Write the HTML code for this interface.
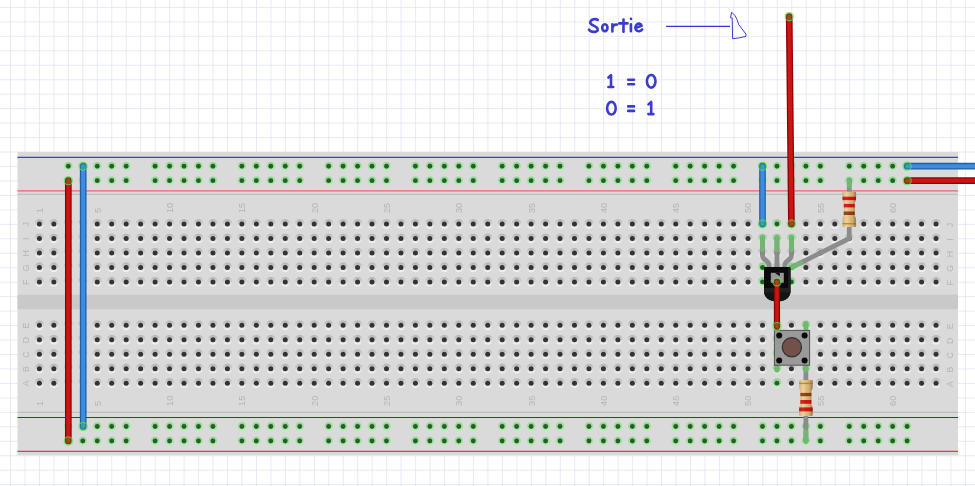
<!DOCTYPE html><html><head><meta charset="utf-8"><title>breadboard</title>
<style>html,body{margin:0;padding:0;background:#fff;overflow:hidden}body{width:975px;height:486px;font-family:"Liberation Sans",sans-serif}svg{display:block}</style></head><body>
<svg width="975" height="486" viewBox="0 0 975 486">
<defs>
<linearGradient id="ring" x1="0" y1="0" x2="0" y2="1"><stop offset="0" stop-color="#b1b1b1"/><stop offset="0.42" stop-color="#d0d0d0"/><stop offset="1" stop-color="#f6f6f6"/></linearGradient>
<g id="h"><circle r="4.85" fill="url(#ring)"/><circle r="2.5" fill="#333"/></g>
<linearGradient id="gg" x1="0" y1="0" x2="0" y2="1"><stop offset="0" stop-color="#84da84"/><stop offset="1" stop-color="#b2f0b0"/></linearGradient><g id="p"><circle r="4.25" fill="url(#gg)"/><circle r="2.45" fill="#2b5a2e"/></g>
<g id="g"><circle r="4.25" fill="url(#gg)"/><circle r="2.45" fill="#2b5a2e"/></g>
</defs>
<rect width="975" height="486" fill="#fff"/>
<path d="M10.50 0V486M24.97 0V486M39.44 0V486M53.90 0V486M68.37 0V486M82.84 0V486M97.31 0V486M111.78 0V486M126.24 0V486M140.71 0V486M155.18 0V486M169.65 0V486M184.12 0V486M198.58 0V486M213.05 0V486M227.52 0V486M241.99 0V486M256.46 0V486M270.92 0V486M285.39 0V486M299.86 0V486M314.33 0V486M328.80 0V486M343.26 0V486M357.73 0V486M372.20 0V486M386.67 0V486M401.14 0V486M415.60 0V486M430.07 0V486M444.54 0V486M459.01 0V486M473.48 0V486M487.94 0V486M502.41 0V486M516.88 0V486M531.35 0V486M545.82 0V486M560.28 0V486M574.75 0V486M589.22 0V486M603.69 0V486M618.16 0V486M632.62 0V486M647.09 0V486M661.56 0V486M676.03 0V486M690.50 0V486M704.96 0V486M719.43 0V486M733.90 0V486M748.37 0V486M762.84 0V486M777.30 0V486M791.77 0V486M806.24 0V486M820.71 0V486M835.18 0V486M849.64 0V486M864.11 0V486M878.58 0V486M893.05 0V486M907.52 0V486M921.98 0V486M936.45 0V486M950.92 0V486M965.39 0V486M979.86 0V486M0 7.40H975M0 21.86H975M0 36.33H975M0 50.79H975M0 65.25H975M0 79.72H975M0 94.18H975M0 108.64H975M0 123.10H975M0 137.57H975M0 152.03H975M0 166.49H975M0 180.96H975M0 195.42H975M0 209.88H975M0 224.34H975M0 238.81H975M0 253.27H975M0 267.73H975M0 282.20H975M0 296.66H975M0 311.12H975M0 325.59H975M0 340.05H975M0 354.51H975M0 368.97H975M0 383.44H975M0 397.90H975M0 412.36H975M0 426.83H975M0 441.29H975M0 455.75H975M0 470.22H975M0 484.68H975" stroke="#dfe6ef" stroke-width="0.8" fill="none"/>
<rect x="17.5" y="152.0" width="940.5" height="303.3" fill="#dadada"/>
<rect x="17.5" y="294.8" width="940.5" height="14.4" fill="#cbc9c7"/>
<path d="M17.5 194.3H958.0M17.5 412.3H958.0" stroke="#b4b4b4" stroke-width="0.9"/>
<path d="M17.5 157.3H958.0" stroke="#3c3af0" stroke-width="1.2"/>
<path d="M17.5 417.5H958.0" stroke="#2a28ee" stroke-width="1.1"/>
<path d="M17.5 190.9H958.0" stroke="#ee6464" stroke-width="1.4"/>
<path d="M17.5 451.4H958.0" stroke="#f03a3a" stroke-width="1.2"/>
<use href="#h" x="39.40" y="224.05"/>
<use href="#h" x="53.86" y="224.05"/>
<use href="#h" x="68.32" y="224.05"/>
<use href="#h" x="82.79" y="224.05"/>
<use href="#h" x="97.25" y="224.05"/>
<use href="#h" x="111.71" y="224.05"/>
<use href="#h" x="126.17" y="224.05"/>
<use href="#h" x="140.63" y="224.05"/>
<use href="#h" x="155.10" y="224.05"/>
<use href="#h" x="169.56" y="224.05"/>
<use href="#h" x="184.02" y="224.05"/>
<use href="#h" x="198.48" y="224.05"/>
<use href="#h" x="212.94" y="224.05"/>
<use href="#h" x="227.41" y="224.05"/>
<use href="#h" x="241.87" y="224.05"/>
<use href="#h" x="256.33" y="224.05"/>
<use href="#h" x="270.79" y="224.05"/>
<use href="#h" x="285.25" y="224.05"/>
<use href="#h" x="299.72" y="224.05"/>
<use href="#h" x="314.18" y="224.05"/>
<use href="#h" x="328.64" y="224.05"/>
<use href="#h" x="343.10" y="224.05"/>
<use href="#h" x="357.56" y="224.05"/>
<use href="#h" x="372.03" y="224.05"/>
<use href="#h" x="386.49" y="224.05"/>
<use href="#h" x="400.95" y="224.05"/>
<use href="#h" x="415.41" y="224.05"/>
<use href="#h" x="429.87" y="224.05"/>
<use href="#h" x="444.34" y="224.05"/>
<use href="#h" x="458.80" y="224.05"/>
<use href="#h" x="473.26" y="224.05"/>
<use href="#h" x="487.72" y="224.05"/>
<use href="#h" x="502.18" y="224.05"/>
<use href="#h" x="516.65" y="224.05"/>
<use href="#h" x="531.11" y="224.05"/>
<use href="#h" x="545.57" y="224.05"/>
<use href="#h" x="560.03" y="224.05"/>
<use href="#h" x="574.49" y="224.05"/>
<use href="#h" x="588.96" y="224.05"/>
<use href="#h" x="603.42" y="224.05"/>
<use href="#h" x="617.88" y="224.05"/>
<use href="#h" x="632.34" y="224.05"/>
<use href="#h" x="646.80" y="224.05"/>
<use href="#h" x="661.27" y="224.05"/>
<use href="#h" x="675.73" y="224.05"/>
<use href="#h" x="690.19" y="224.05"/>
<use href="#h" x="704.65" y="224.05"/>
<use href="#h" x="719.11" y="224.05"/>
<use href="#h" x="733.58" y="224.05"/>
<use href="#h" x="748.04" y="224.05"/>
<use href="#h" x="762.50" y="224.05"/>
<use href="#h" x="776.96" y="224.05"/>
<use href="#h" x="791.42" y="224.05"/>
<use href="#h" x="805.89" y="224.05"/>
<use href="#h" x="820.35" y="224.05"/>
<use href="#h" x="834.81" y="224.05"/>
<use href="#h" x="849.27" y="224.05"/>
<use href="#h" x="863.73" y="224.05"/>
<use href="#h" x="878.20" y="224.05"/>
<use href="#h" x="892.66" y="224.05"/>
<use href="#h" x="907.12" y="224.05"/>
<use href="#h" x="921.58" y="224.05"/>
<use href="#h" x="936.04" y="224.05"/>
<use href="#h" x="39.40" y="238.51"/>
<use href="#h" x="53.86" y="238.51"/>
<use href="#h" x="68.32" y="238.51"/>
<use href="#h" x="82.79" y="238.51"/>
<use href="#h" x="97.25" y="238.51"/>
<use href="#h" x="111.71" y="238.51"/>
<use href="#h" x="126.17" y="238.51"/>
<use href="#h" x="140.63" y="238.51"/>
<use href="#h" x="155.10" y="238.51"/>
<use href="#h" x="169.56" y="238.51"/>
<use href="#h" x="184.02" y="238.51"/>
<use href="#h" x="198.48" y="238.51"/>
<use href="#h" x="212.94" y="238.51"/>
<use href="#h" x="227.41" y="238.51"/>
<use href="#h" x="241.87" y="238.51"/>
<use href="#h" x="256.33" y="238.51"/>
<use href="#h" x="270.79" y="238.51"/>
<use href="#h" x="285.25" y="238.51"/>
<use href="#h" x="299.72" y="238.51"/>
<use href="#h" x="314.18" y="238.51"/>
<use href="#h" x="328.64" y="238.51"/>
<use href="#h" x="343.10" y="238.51"/>
<use href="#h" x="357.56" y="238.51"/>
<use href="#h" x="372.03" y="238.51"/>
<use href="#h" x="386.49" y="238.51"/>
<use href="#h" x="400.95" y="238.51"/>
<use href="#h" x="415.41" y="238.51"/>
<use href="#h" x="429.87" y="238.51"/>
<use href="#h" x="444.34" y="238.51"/>
<use href="#h" x="458.80" y="238.51"/>
<use href="#h" x="473.26" y="238.51"/>
<use href="#h" x="487.72" y="238.51"/>
<use href="#h" x="502.18" y="238.51"/>
<use href="#h" x="516.65" y="238.51"/>
<use href="#h" x="531.11" y="238.51"/>
<use href="#h" x="545.57" y="238.51"/>
<use href="#h" x="560.03" y="238.51"/>
<use href="#h" x="574.49" y="238.51"/>
<use href="#h" x="588.96" y="238.51"/>
<use href="#h" x="603.42" y="238.51"/>
<use href="#h" x="617.88" y="238.51"/>
<use href="#h" x="632.34" y="238.51"/>
<use href="#h" x="646.80" y="238.51"/>
<use href="#h" x="661.27" y="238.51"/>
<use href="#h" x="675.73" y="238.51"/>
<use href="#h" x="690.19" y="238.51"/>
<use href="#h" x="704.65" y="238.51"/>
<use href="#h" x="719.11" y="238.51"/>
<use href="#h" x="733.58" y="238.51"/>
<use href="#h" x="748.04" y="238.51"/>
<use href="#h" x="762.50" y="238.51"/>
<use href="#h" x="776.96" y="238.51"/>
<use href="#h" x="791.42" y="238.51"/>
<use href="#h" x="805.89" y="238.51"/>
<use href="#h" x="820.35" y="238.51"/>
<use href="#h" x="834.81" y="238.51"/>
<use href="#h" x="849.27" y="238.51"/>
<use href="#h" x="863.73" y="238.51"/>
<use href="#h" x="878.20" y="238.51"/>
<use href="#h" x="892.66" y="238.51"/>
<use href="#h" x="907.12" y="238.51"/>
<use href="#h" x="921.58" y="238.51"/>
<use href="#h" x="936.04" y="238.51"/>
<use href="#h" x="39.40" y="252.97"/>
<use href="#h" x="53.86" y="252.97"/>
<use href="#h" x="68.32" y="252.97"/>
<use href="#h" x="82.79" y="252.97"/>
<use href="#h" x="97.25" y="252.97"/>
<use href="#h" x="111.71" y="252.97"/>
<use href="#h" x="126.17" y="252.97"/>
<use href="#h" x="140.63" y="252.97"/>
<use href="#h" x="155.10" y="252.97"/>
<use href="#h" x="169.56" y="252.97"/>
<use href="#h" x="184.02" y="252.97"/>
<use href="#h" x="198.48" y="252.97"/>
<use href="#h" x="212.94" y="252.97"/>
<use href="#h" x="227.41" y="252.97"/>
<use href="#h" x="241.87" y="252.97"/>
<use href="#h" x="256.33" y="252.97"/>
<use href="#h" x="270.79" y="252.97"/>
<use href="#h" x="285.25" y="252.97"/>
<use href="#h" x="299.72" y="252.97"/>
<use href="#h" x="314.18" y="252.97"/>
<use href="#h" x="328.64" y="252.97"/>
<use href="#h" x="343.10" y="252.97"/>
<use href="#h" x="357.56" y="252.97"/>
<use href="#h" x="372.03" y="252.97"/>
<use href="#h" x="386.49" y="252.97"/>
<use href="#h" x="400.95" y="252.97"/>
<use href="#h" x="415.41" y="252.97"/>
<use href="#h" x="429.87" y="252.97"/>
<use href="#h" x="444.34" y="252.97"/>
<use href="#h" x="458.80" y="252.97"/>
<use href="#h" x="473.26" y="252.97"/>
<use href="#h" x="487.72" y="252.97"/>
<use href="#h" x="502.18" y="252.97"/>
<use href="#h" x="516.65" y="252.97"/>
<use href="#h" x="531.11" y="252.97"/>
<use href="#h" x="545.57" y="252.97"/>
<use href="#h" x="560.03" y="252.97"/>
<use href="#h" x="574.49" y="252.97"/>
<use href="#h" x="588.96" y="252.97"/>
<use href="#h" x="603.42" y="252.97"/>
<use href="#h" x="617.88" y="252.97"/>
<use href="#h" x="632.34" y="252.97"/>
<use href="#h" x="646.80" y="252.97"/>
<use href="#h" x="661.27" y="252.97"/>
<use href="#h" x="675.73" y="252.97"/>
<use href="#h" x="690.19" y="252.97"/>
<use href="#h" x="704.65" y="252.97"/>
<use href="#h" x="719.11" y="252.97"/>
<use href="#h" x="733.58" y="252.97"/>
<use href="#h" x="748.04" y="252.97"/>
<use href="#h" x="762.50" y="252.97"/>
<use href="#h" x="776.96" y="252.97"/>
<use href="#h" x="791.42" y="252.97"/>
<use href="#h" x="805.89" y="252.97"/>
<use href="#h" x="820.35" y="252.97"/>
<use href="#h" x="834.81" y="252.97"/>
<use href="#h" x="849.27" y="252.97"/>
<use href="#h" x="863.73" y="252.97"/>
<use href="#h" x="878.20" y="252.97"/>
<use href="#h" x="892.66" y="252.97"/>
<use href="#h" x="907.12" y="252.97"/>
<use href="#h" x="921.58" y="252.97"/>
<use href="#h" x="936.04" y="252.97"/>
<use href="#h" x="39.40" y="267.43"/>
<use href="#h" x="53.86" y="267.43"/>
<use href="#h" x="68.32" y="267.43"/>
<use href="#h" x="82.79" y="267.43"/>
<use href="#h" x="97.25" y="267.43"/>
<use href="#h" x="111.71" y="267.43"/>
<use href="#h" x="126.17" y="267.43"/>
<use href="#h" x="140.63" y="267.43"/>
<use href="#h" x="155.10" y="267.43"/>
<use href="#h" x="169.56" y="267.43"/>
<use href="#h" x="184.02" y="267.43"/>
<use href="#h" x="198.48" y="267.43"/>
<use href="#h" x="212.94" y="267.43"/>
<use href="#h" x="227.41" y="267.43"/>
<use href="#h" x="241.87" y="267.43"/>
<use href="#h" x="256.33" y="267.43"/>
<use href="#h" x="270.79" y="267.43"/>
<use href="#h" x="285.25" y="267.43"/>
<use href="#h" x="299.72" y="267.43"/>
<use href="#h" x="314.18" y="267.43"/>
<use href="#h" x="328.64" y="267.43"/>
<use href="#h" x="343.10" y="267.43"/>
<use href="#h" x="357.56" y="267.43"/>
<use href="#h" x="372.03" y="267.43"/>
<use href="#h" x="386.49" y="267.43"/>
<use href="#h" x="400.95" y="267.43"/>
<use href="#h" x="415.41" y="267.43"/>
<use href="#h" x="429.87" y="267.43"/>
<use href="#h" x="444.34" y="267.43"/>
<use href="#h" x="458.80" y="267.43"/>
<use href="#h" x="473.26" y="267.43"/>
<use href="#h" x="487.72" y="267.43"/>
<use href="#h" x="502.18" y="267.43"/>
<use href="#h" x="516.65" y="267.43"/>
<use href="#h" x="531.11" y="267.43"/>
<use href="#h" x="545.57" y="267.43"/>
<use href="#h" x="560.03" y="267.43"/>
<use href="#h" x="574.49" y="267.43"/>
<use href="#h" x="588.96" y="267.43"/>
<use href="#h" x="603.42" y="267.43"/>
<use href="#h" x="617.88" y="267.43"/>
<use href="#h" x="632.34" y="267.43"/>
<use href="#h" x="646.80" y="267.43"/>
<use href="#h" x="661.27" y="267.43"/>
<use href="#h" x="675.73" y="267.43"/>
<use href="#h" x="690.19" y="267.43"/>
<use href="#h" x="704.65" y="267.43"/>
<use href="#h" x="719.11" y="267.43"/>
<use href="#h" x="733.58" y="267.43"/>
<use href="#h" x="748.04" y="267.43"/>
<use href="#h" x="762.50" y="267.43"/>
<use href="#h" x="776.96" y="267.43"/>
<use href="#h" x="791.42" y="267.43"/>
<use href="#h" x="805.89" y="267.43"/>
<use href="#h" x="820.35" y="267.43"/>
<use href="#h" x="834.81" y="267.43"/>
<use href="#h" x="849.27" y="267.43"/>
<use href="#h" x="863.73" y="267.43"/>
<use href="#h" x="878.20" y="267.43"/>
<use href="#h" x="892.66" y="267.43"/>
<use href="#h" x="907.12" y="267.43"/>
<use href="#h" x="921.58" y="267.43"/>
<use href="#h" x="936.04" y="267.43"/>
<use href="#h" x="39.40" y="281.90"/>
<use href="#h" x="53.86" y="281.90"/>
<use href="#h" x="68.32" y="281.90"/>
<use href="#h" x="82.79" y="281.90"/>
<use href="#h" x="97.25" y="281.90"/>
<use href="#h" x="111.71" y="281.90"/>
<use href="#h" x="126.17" y="281.90"/>
<use href="#h" x="140.63" y="281.90"/>
<use href="#h" x="155.10" y="281.90"/>
<use href="#h" x="169.56" y="281.90"/>
<use href="#h" x="184.02" y="281.90"/>
<use href="#h" x="198.48" y="281.90"/>
<use href="#h" x="212.94" y="281.90"/>
<use href="#h" x="227.41" y="281.90"/>
<use href="#h" x="241.87" y="281.90"/>
<use href="#h" x="256.33" y="281.90"/>
<use href="#h" x="270.79" y="281.90"/>
<use href="#h" x="285.25" y="281.90"/>
<use href="#h" x="299.72" y="281.90"/>
<use href="#h" x="314.18" y="281.90"/>
<use href="#h" x="328.64" y="281.90"/>
<use href="#h" x="343.10" y="281.90"/>
<use href="#h" x="357.56" y="281.90"/>
<use href="#h" x="372.03" y="281.90"/>
<use href="#h" x="386.49" y="281.90"/>
<use href="#h" x="400.95" y="281.90"/>
<use href="#h" x="415.41" y="281.90"/>
<use href="#h" x="429.87" y="281.90"/>
<use href="#h" x="444.34" y="281.90"/>
<use href="#h" x="458.80" y="281.90"/>
<use href="#h" x="473.26" y="281.90"/>
<use href="#h" x="487.72" y="281.90"/>
<use href="#h" x="502.18" y="281.90"/>
<use href="#h" x="516.65" y="281.90"/>
<use href="#h" x="531.11" y="281.90"/>
<use href="#h" x="545.57" y="281.90"/>
<use href="#h" x="560.03" y="281.90"/>
<use href="#h" x="574.49" y="281.90"/>
<use href="#h" x="588.96" y="281.90"/>
<use href="#h" x="603.42" y="281.90"/>
<use href="#h" x="617.88" y="281.90"/>
<use href="#h" x="632.34" y="281.90"/>
<use href="#h" x="646.80" y="281.90"/>
<use href="#h" x="661.27" y="281.90"/>
<use href="#h" x="675.73" y="281.90"/>
<use href="#h" x="690.19" y="281.90"/>
<use href="#h" x="704.65" y="281.90"/>
<use href="#h" x="719.11" y="281.90"/>
<use href="#h" x="733.58" y="281.90"/>
<use href="#h" x="748.04" y="281.90"/>
<use href="#h" x="762.50" y="281.90"/>
<use href="#h" x="776.96" y="281.90"/>
<use href="#h" x="791.42" y="281.90"/>
<use href="#h" x="805.89" y="281.90"/>
<use href="#h" x="820.35" y="281.90"/>
<use href="#h" x="834.81" y="281.90"/>
<use href="#h" x="849.27" y="281.90"/>
<use href="#h" x="863.73" y="281.90"/>
<use href="#h" x="878.20" y="281.90"/>
<use href="#h" x="892.66" y="281.90"/>
<use href="#h" x="907.12" y="281.90"/>
<use href="#h" x="921.58" y="281.90"/>
<use href="#h" x="936.04" y="281.90"/>
<use href="#h" x="39.40" y="325.28"/>
<use href="#h" x="53.86" y="325.28"/>
<use href="#h" x="68.32" y="325.28"/>
<use href="#h" x="82.79" y="325.28"/>
<use href="#h" x="97.25" y="325.28"/>
<use href="#h" x="111.71" y="325.28"/>
<use href="#h" x="126.17" y="325.28"/>
<use href="#h" x="140.63" y="325.28"/>
<use href="#h" x="155.10" y="325.28"/>
<use href="#h" x="169.56" y="325.28"/>
<use href="#h" x="184.02" y="325.28"/>
<use href="#h" x="198.48" y="325.28"/>
<use href="#h" x="212.94" y="325.28"/>
<use href="#h" x="227.41" y="325.28"/>
<use href="#h" x="241.87" y="325.28"/>
<use href="#h" x="256.33" y="325.28"/>
<use href="#h" x="270.79" y="325.28"/>
<use href="#h" x="285.25" y="325.28"/>
<use href="#h" x="299.72" y="325.28"/>
<use href="#h" x="314.18" y="325.28"/>
<use href="#h" x="328.64" y="325.28"/>
<use href="#h" x="343.10" y="325.28"/>
<use href="#h" x="357.56" y="325.28"/>
<use href="#h" x="372.03" y="325.28"/>
<use href="#h" x="386.49" y="325.28"/>
<use href="#h" x="400.95" y="325.28"/>
<use href="#h" x="415.41" y="325.28"/>
<use href="#h" x="429.87" y="325.28"/>
<use href="#h" x="444.34" y="325.28"/>
<use href="#h" x="458.80" y="325.28"/>
<use href="#h" x="473.26" y="325.28"/>
<use href="#h" x="487.72" y="325.28"/>
<use href="#h" x="502.18" y="325.28"/>
<use href="#h" x="516.65" y="325.28"/>
<use href="#h" x="531.11" y="325.28"/>
<use href="#h" x="545.57" y="325.28"/>
<use href="#h" x="560.03" y="325.28"/>
<use href="#h" x="574.49" y="325.28"/>
<use href="#h" x="588.96" y="325.28"/>
<use href="#h" x="603.42" y="325.28"/>
<use href="#h" x="617.88" y="325.28"/>
<use href="#h" x="632.34" y="325.28"/>
<use href="#h" x="646.80" y="325.28"/>
<use href="#h" x="661.27" y="325.28"/>
<use href="#h" x="675.73" y="325.28"/>
<use href="#h" x="690.19" y="325.28"/>
<use href="#h" x="704.65" y="325.28"/>
<use href="#h" x="719.11" y="325.28"/>
<use href="#h" x="733.58" y="325.28"/>
<use href="#h" x="748.04" y="325.28"/>
<use href="#h" x="762.50" y="325.28"/>
<use href="#h" x="776.96" y="325.28"/>
<use href="#h" x="791.42" y="325.28"/>
<use href="#h" x="805.89" y="325.28"/>
<use href="#h" x="820.35" y="325.28"/>
<use href="#h" x="834.81" y="325.28"/>
<use href="#h" x="849.27" y="325.28"/>
<use href="#h" x="863.73" y="325.28"/>
<use href="#h" x="878.20" y="325.28"/>
<use href="#h" x="892.66" y="325.28"/>
<use href="#h" x="907.12" y="325.28"/>
<use href="#h" x="921.58" y="325.28"/>
<use href="#h" x="936.04" y="325.28"/>
<use href="#h" x="39.40" y="339.74"/>
<use href="#h" x="53.86" y="339.74"/>
<use href="#h" x="68.32" y="339.74"/>
<use href="#h" x="82.79" y="339.74"/>
<use href="#h" x="97.25" y="339.74"/>
<use href="#h" x="111.71" y="339.74"/>
<use href="#h" x="126.17" y="339.74"/>
<use href="#h" x="140.63" y="339.74"/>
<use href="#h" x="155.10" y="339.74"/>
<use href="#h" x="169.56" y="339.74"/>
<use href="#h" x="184.02" y="339.74"/>
<use href="#h" x="198.48" y="339.74"/>
<use href="#h" x="212.94" y="339.74"/>
<use href="#h" x="227.41" y="339.74"/>
<use href="#h" x="241.87" y="339.74"/>
<use href="#h" x="256.33" y="339.74"/>
<use href="#h" x="270.79" y="339.74"/>
<use href="#h" x="285.25" y="339.74"/>
<use href="#h" x="299.72" y="339.74"/>
<use href="#h" x="314.18" y="339.74"/>
<use href="#h" x="328.64" y="339.74"/>
<use href="#h" x="343.10" y="339.74"/>
<use href="#h" x="357.56" y="339.74"/>
<use href="#h" x="372.03" y="339.74"/>
<use href="#h" x="386.49" y="339.74"/>
<use href="#h" x="400.95" y="339.74"/>
<use href="#h" x="415.41" y="339.74"/>
<use href="#h" x="429.87" y="339.74"/>
<use href="#h" x="444.34" y="339.74"/>
<use href="#h" x="458.80" y="339.74"/>
<use href="#h" x="473.26" y="339.74"/>
<use href="#h" x="487.72" y="339.74"/>
<use href="#h" x="502.18" y="339.74"/>
<use href="#h" x="516.65" y="339.74"/>
<use href="#h" x="531.11" y="339.74"/>
<use href="#h" x="545.57" y="339.74"/>
<use href="#h" x="560.03" y="339.74"/>
<use href="#h" x="574.49" y="339.74"/>
<use href="#h" x="588.96" y="339.74"/>
<use href="#h" x="603.42" y="339.74"/>
<use href="#h" x="617.88" y="339.74"/>
<use href="#h" x="632.34" y="339.74"/>
<use href="#h" x="646.80" y="339.74"/>
<use href="#h" x="661.27" y="339.74"/>
<use href="#h" x="675.73" y="339.74"/>
<use href="#h" x="690.19" y="339.74"/>
<use href="#h" x="704.65" y="339.74"/>
<use href="#h" x="719.11" y="339.74"/>
<use href="#h" x="733.58" y="339.74"/>
<use href="#h" x="748.04" y="339.74"/>
<use href="#h" x="762.50" y="339.74"/>
<use href="#h" x="776.96" y="339.74"/>
<use href="#h" x="791.42" y="339.74"/>
<use href="#h" x="805.89" y="339.74"/>
<use href="#h" x="820.35" y="339.74"/>
<use href="#h" x="834.81" y="339.74"/>
<use href="#h" x="849.27" y="339.74"/>
<use href="#h" x="863.73" y="339.74"/>
<use href="#h" x="878.20" y="339.74"/>
<use href="#h" x="892.66" y="339.74"/>
<use href="#h" x="907.12" y="339.74"/>
<use href="#h" x="921.58" y="339.74"/>
<use href="#h" x="936.04" y="339.74"/>
<use href="#h" x="39.40" y="354.21"/>
<use href="#h" x="53.86" y="354.21"/>
<use href="#h" x="68.32" y="354.21"/>
<use href="#h" x="82.79" y="354.21"/>
<use href="#h" x="97.25" y="354.21"/>
<use href="#h" x="111.71" y="354.21"/>
<use href="#h" x="126.17" y="354.21"/>
<use href="#h" x="140.63" y="354.21"/>
<use href="#h" x="155.10" y="354.21"/>
<use href="#h" x="169.56" y="354.21"/>
<use href="#h" x="184.02" y="354.21"/>
<use href="#h" x="198.48" y="354.21"/>
<use href="#h" x="212.94" y="354.21"/>
<use href="#h" x="227.41" y="354.21"/>
<use href="#h" x="241.87" y="354.21"/>
<use href="#h" x="256.33" y="354.21"/>
<use href="#h" x="270.79" y="354.21"/>
<use href="#h" x="285.25" y="354.21"/>
<use href="#h" x="299.72" y="354.21"/>
<use href="#h" x="314.18" y="354.21"/>
<use href="#h" x="328.64" y="354.21"/>
<use href="#h" x="343.10" y="354.21"/>
<use href="#h" x="357.56" y="354.21"/>
<use href="#h" x="372.03" y="354.21"/>
<use href="#h" x="386.49" y="354.21"/>
<use href="#h" x="400.95" y="354.21"/>
<use href="#h" x="415.41" y="354.21"/>
<use href="#h" x="429.87" y="354.21"/>
<use href="#h" x="444.34" y="354.21"/>
<use href="#h" x="458.80" y="354.21"/>
<use href="#h" x="473.26" y="354.21"/>
<use href="#h" x="487.72" y="354.21"/>
<use href="#h" x="502.18" y="354.21"/>
<use href="#h" x="516.65" y="354.21"/>
<use href="#h" x="531.11" y="354.21"/>
<use href="#h" x="545.57" y="354.21"/>
<use href="#h" x="560.03" y="354.21"/>
<use href="#h" x="574.49" y="354.21"/>
<use href="#h" x="588.96" y="354.21"/>
<use href="#h" x="603.42" y="354.21"/>
<use href="#h" x="617.88" y="354.21"/>
<use href="#h" x="632.34" y="354.21"/>
<use href="#h" x="646.80" y="354.21"/>
<use href="#h" x="661.27" y="354.21"/>
<use href="#h" x="675.73" y="354.21"/>
<use href="#h" x="690.19" y="354.21"/>
<use href="#h" x="704.65" y="354.21"/>
<use href="#h" x="719.11" y="354.21"/>
<use href="#h" x="733.58" y="354.21"/>
<use href="#h" x="748.04" y="354.21"/>
<use href="#h" x="762.50" y="354.21"/>
<use href="#h" x="776.96" y="354.21"/>
<use href="#h" x="791.42" y="354.21"/>
<use href="#h" x="805.89" y="354.21"/>
<use href="#h" x="820.35" y="354.21"/>
<use href="#h" x="834.81" y="354.21"/>
<use href="#h" x="849.27" y="354.21"/>
<use href="#h" x="863.73" y="354.21"/>
<use href="#h" x="878.20" y="354.21"/>
<use href="#h" x="892.66" y="354.21"/>
<use href="#h" x="907.12" y="354.21"/>
<use href="#h" x="921.58" y="354.21"/>
<use href="#h" x="936.04" y="354.21"/>
<use href="#h" x="39.40" y="368.67"/>
<use href="#h" x="53.86" y="368.67"/>
<use href="#h" x="68.32" y="368.67"/>
<use href="#h" x="82.79" y="368.67"/>
<use href="#h" x="97.25" y="368.67"/>
<use href="#h" x="111.71" y="368.67"/>
<use href="#h" x="126.17" y="368.67"/>
<use href="#h" x="140.63" y="368.67"/>
<use href="#h" x="155.10" y="368.67"/>
<use href="#h" x="169.56" y="368.67"/>
<use href="#h" x="184.02" y="368.67"/>
<use href="#h" x="198.48" y="368.67"/>
<use href="#h" x="212.94" y="368.67"/>
<use href="#h" x="227.41" y="368.67"/>
<use href="#h" x="241.87" y="368.67"/>
<use href="#h" x="256.33" y="368.67"/>
<use href="#h" x="270.79" y="368.67"/>
<use href="#h" x="285.25" y="368.67"/>
<use href="#h" x="299.72" y="368.67"/>
<use href="#h" x="314.18" y="368.67"/>
<use href="#h" x="328.64" y="368.67"/>
<use href="#h" x="343.10" y="368.67"/>
<use href="#h" x="357.56" y="368.67"/>
<use href="#h" x="372.03" y="368.67"/>
<use href="#h" x="386.49" y="368.67"/>
<use href="#h" x="400.95" y="368.67"/>
<use href="#h" x="415.41" y="368.67"/>
<use href="#h" x="429.87" y="368.67"/>
<use href="#h" x="444.34" y="368.67"/>
<use href="#h" x="458.80" y="368.67"/>
<use href="#h" x="473.26" y="368.67"/>
<use href="#h" x="487.72" y="368.67"/>
<use href="#h" x="502.18" y="368.67"/>
<use href="#h" x="516.65" y="368.67"/>
<use href="#h" x="531.11" y="368.67"/>
<use href="#h" x="545.57" y="368.67"/>
<use href="#h" x="560.03" y="368.67"/>
<use href="#h" x="574.49" y="368.67"/>
<use href="#h" x="588.96" y="368.67"/>
<use href="#h" x="603.42" y="368.67"/>
<use href="#h" x="617.88" y="368.67"/>
<use href="#h" x="632.34" y="368.67"/>
<use href="#h" x="646.80" y="368.67"/>
<use href="#h" x="661.27" y="368.67"/>
<use href="#h" x="675.73" y="368.67"/>
<use href="#h" x="690.19" y="368.67"/>
<use href="#h" x="704.65" y="368.67"/>
<use href="#h" x="719.11" y="368.67"/>
<use href="#h" x="733.58" y="368.67"/>
<use href="#h" x="748.04" y="368.67"/>
<use href="#h" x="762.50" y="368.67"/>
<use href="#h" x="776.96" y="368.67"/>
<use href="#h" x="791.42" y="368.67"/>
<use href="#h" x="805.89" y="368.67"/>
<use href="#h" x="820.35" y="368.67"/>
<use href="#h" x="834.81" y="368.67"/>
<use href="#h" x="849.27" y="368.67"/>
<use href="#h" x="863.73" y="368.67"/>
<use href="#h" x="878.20" y="368.67"/>
<use href="#h" x="892.66" y="368.67"/>
<use href="#h" x="907.12" y="368.67"/>
<use href="#h" x="921.58" y="368.67"/>
<use href="#h" x="936.04" y="368.67"/>
<use href="#h" x="39.40" y="383.13"/>
<use href="#h" x="53.86" y="383.13"/>
<use href="#h" x="68.32" y="383.13"/>
<use href="#h" x="82.79" y="383.13"/>
<use href="#h" x="97.25" y="383.13"/>
<use href="#h" x="111.71" y="383.13"/>
<use href="#h" x="126.17" y="383.13"/>
<use href="#h" x="140.63" y="383.13"/>
<use href="#h" x="155.10" y="383.13"/>
<use href="#h" x="169.56" y="383.13"/>
<use href="#h" x="184.02" y="383.13"/>
<use href="#h" x="198.48" y="383.13"/>
<use href="#h" x="212.94" y="383.13"/>
<use href="#h" x="227.41" y="383.13"/>
<use href="#h" x="241.87" y="383.13"/>
<use href="#h" x="256.33" y="383.13"/>
<use href="#h" x="270.79" y="383.13"/>
<use href="#h" x="285.25" y="383.13"/>
<use href="#h" x="299.72" y="383.13"/>
<use href="#h" x="314.18" y="383.13"/>
<use href="#h" x="328.64" y="383.13"/>
<use href="#h" x="343.10" y="383.13"/>
<use href="#h" x="357.56" y="383.13"/>
<use href="#h" x="372.03" y="383.13"/>
<use href="#h" x="386.49" y="383.13"/>
<use href="#h" x="400.95" y="383.13"/>
<use href="#h" x="415.41" y="383.13"/>
<use href="#h" x="429.87" y="383.13"/>
<use href="#h" x="444.34" y="383.13"/>
<use href="#h" x="458.80" y="383.13"/>
<use href="#h" x="473.26" y="383.13"/>
<use href="#h" x="487.72" y="383.13"/>
<use href="#h" x="502.18" y="383.13"/>
<use href="#h" x="516.65" y="383.13"/>
<use href="#h" x="531.11" y="383.13"/>
<use href="#h" x="545.57" y="383.13"/>
<use href="#h" x="560.03" y="383.13"/>
<use href="#h" x="574.49" y="383.13"/>
<use href="#h" x="588.96" y="383.13"/>
<use href="#h" x="603.42" y="383.13"/>
<use href="#h" x="617.88" y="383.13"/>
<use href="#h" x="632.34" y="383.13"/>
<use href="#h" x="646.80" y="383.13"/>
<use href="#h" x="661.27" y="383.13"/>
<use href="#h" x="675.73" y="383.13"/>
<use href="#h" x="690.19" y="383.13"/>
<use href="#h" x="704.65" y="383.13"/>
<use href="#h" x="719.11" y="383.13"/>
<use href="#h" x="733.58" y="383.13"/>
<use href="#h" x="748.04" y="383.13"/>
<use href="#h" x="762.50" y="383.13"/>
<use href="#h" x="776.96" y="383.13"/>
<use href="#h" x="791.42" y="383.13"/>
<use href="#h" x="805.89" y="383.13"/>
<use href="#h" x="820.35" y="383.13"/>
<use href="#h" x="834.81" y="383.13"/>
<use href="#h" x="849.27" y="383.13"/>
<use href="#h" x="863.73" y="383.13"/>
<use href="#h" x="878.20" y="383.13"/>
<use href="#h" x="892.66" y="383.13"/>
<use href="#h" x="907.12" y="383.13"/>
<use href="#h" x="921.58" y="383.13"/>
<use href="#h" x="936.04" y="383.13"/>
<use href="#p" x="68.32" y="166.20"/>
<use href="#p" x="82.79" y="166.20"/>
<use href="#p" x="97.25" y="166.20"/>
<use href="#p" x="111.71" y="166.20"/>
<use href="#p" x="126.17" y="166.20"/>
<use href="#p" x="155.10" y="166.20"/>
<use href="#p" x="169.56" y="166.20"/>
<use href="#p" x="184.02" y="166.20"/>
<use href="#p" x="198.48" y="166.20"/>
<use href="#p" x="212.94" y="166.20"/>
<use href="#p" x="241.87" y="166.20"/>
<use href="#p" x="256.33" y="166.20"/>
<use href="#p" x="270.79" y="166.20"/>
<use href="#p" x="285.25" y="166.20"/>
<use href="#p" x="299.72" y="166.20"/>
<use href="#p" x="328.64" y="166.20"/>
<use href="#p" x="343.10" y="166.20"/>
<use href="#p" x="357.56" y="166.20"/>
<use href="#p" x="372.03" y="166.20"/>
<use href="#p" x="386.49" y="166.20"/>
<use href="#p" x="415.41" y="166.20"/>
<use href="#p" x="429.87" y="166.20"/>
<use href="#p" x="444.34" y="166.20"/>
<use href="#p" x="458.80" y="166.20"/>
<use href="#p" x="473.26" y="166.20"/>
<use href="#p" x="502.18" y="166.20"/>
<use href="#p" x="516.65" y="166.20"/>
<use href="#p" x="531.11" y="166.20"/>
<use href="#p" x="545.57" y="166.20"/>
<use href="#p" x="560.03" y="166.20"/>
<use href="#p" x="588.96" y="166.20"/>
<use href="#p" x="603.42" y="166.20"/>
<use href="#p" x="617.88" y="166.20"/>
<use href="#p" x="632.34" y="166.20"/>
<use href="#p" x="646.80" y="166.20"/>
<use href="#p" x="675.73" y="166.20"/>
<use href="#p" x="690.19" y="166.20"/>
<use href="#p" x="704.65" y="166.20"/>
<use href="#p" x="719.11" y="166.20"/>
<use href="#p" x="733.58" y="166.20"/>
<use href="#p" x="762.50" y="166.20"/>
<use href="#p" x="776.96" y="166.20"/>
<use href="#p" x="791.42" y="166.20"/>
<use href="#p" x="805.89" y="166.20"/>
<use href="#p" x="820.35" y="166.20"/>
<use href="#p" x="849.27" y="166.20"/>
<use href="#p" x="863.73" y="166.20"/>
<use href="#p" x="878.20" y="166.20"/>
<use href="#p" x="892.66" y="166.20"/>
<use href="#p" x="907.12" y="166.20"/>
<use href="#p" x="68.32" y="180.66"/>
<use href="#p" x="82.79" y="180.66"/>
<use href="#p" x="97.25" y="180.66"/>
<use href="#p" x="111.71" y="180.66"/>
<use href="#p" x="126.17" y="180.66"/>
<use href="#p" x="155.10" y="180.66"/>
<use href="#p" x="169.56" y="180.66"/>
<use href="#p" x="184.02" y="180.66"/>
<use href="#p" x="198.48" y="180.66"/>
<use href="#p" x="212.94" y="180.66"/>
<use href="#p" x="241.87" y="180.66"/>
<use href="#p" x="256.33" y="180.66"/>
<use href="#p" x="270.79" y="180.66"/>
<use href="#p" x="285.25" y="180.66"/>
<use href="#p" x="299.72" y="180.66"/>
<use href="#p" x="328.64" y="180.66"/>
<use href="#p" x="343.10" y="180.66"/>
<use href="#p" x="357.56" y="180.66"/>
<use href="#p" x="372.03" y="180.66"/>
<use href="#p" x="386.49" y="180.66"/>
<use href="#p" x="415.41" y="180.66"/>
<use href="#p" x="429.87" y="180.66"/>
<use href="#p" x="444.34" y="180.66"/>
<use href="#p" x="458.80" y="180.66"/>
<use href="#p" x="473.26" y="180.66"/>
<use href="#p" x="502.18" y="180.66"/>
<use href="#p" x="516.65" y="180.66"/>
<use href="#p" x="531.11" y="180.66"/>
<use href="#p" x="545.57" y="180.66"/>
<use href="#p" x="560.03" y="180.66"/>
<use href="#p" x="588.96" y="180.66"/>
<use href="#p" x="603.42" y="180.66"/>
<use href="#p" x="617.88" y="180.66"/>
<use href="#p" x="632.34" y="180.66"/>
<use href="#p" x="646.80" y="180.66"/>
<use href="#p" x="675.73" y="180.66"/>
<use href="#p" x="690.19" y="180.66"/>
<use href="#p" x="704.65" y="180.66"/>
<use href="#p" x="719.11" y="180.66"/>
<use href="#p" x="733.58" y="180.66"/>
<use href="#p" x="762.50" y="180.66"/>
<use href="#p" x="776.96" y="180.66"/>
<use href="#p" x="791.42" y="180.66"/>
<use href="#p" x="805.89" y="180.66"/>
<use href="#p" x="820.35" y="180.66"/>
<use href="#p" x="849.27" y="180.66"/>
<use href="#p" x="863.73" y="180.66"/>
<use href="#p" x="878.20" y="180.66"/>
<use href="#p" x="892.66" y="180.66"/>
<use href="#p" x="907.12" y="180.66"/>
<use href="#p" x="68.32" y="426.52"/>
<use href="#p" x="82.79" y="426.52"/>
<use href="#p" x="97.25" y="426.52"/>
<use href="#p" x="111.71" y="426.52"/>
<use href="#p" x="126.17" y="426.52"/>
<use href="#p" x="155.10" y="426.52"/>
<use href="#p" x="169.56" y="426.52"/>
<use href="#p" x="184.02" y="426.52"/>
<use href="#p" x="198.48" y="426.52"/>
<use href="#p" x="212.94" y="426.52"/>
<use href="#p" x="241.87" y="426.52"/>
<use href="#p" x="256.33" y="426.52"/>
<use href="#p" x="270.79" y="426.52"/>
<use href="#p" x="285.25" y="426.52"/>
<use href="#p" x="299.72" y="426.52"/>
<use href="#p" x="328.64" y="426.52"/>
<use href="#p" x="343.10" y="426.52"/>
<use href="#p" x="357.56" y="426.52"/>
<use href="#p" x="372.03" y="426.52"/>
<use href="#p" x="386.49" y="426.52"/>
<use href="#p" x="415.41" y="426.52"/>
<use href="#p" x="429.87" y="426.52"/>
<use href="#p" x="444.34" y="426.52"/>
<use href="#p" x="458.80" y="426.52"/>
<use href="#p" x="473.26" y="426.52"/>
<use href="#p" x="502.18" y="426.52"/>
<use href="#p" x="516.65" y="426.52"/>
<use href="#p" x="531.11" y="426.52"/>
<use href="#p" x="545.57" y="426.52"/>
<use href="#p" x="560.03" y="426.52"/>
<use href="#p" x="588.96" y="426.52"/>
<use href="#p" x="603.42" y="426.52"/>
<use href="#p" x="617.88" y="426.52"/>
<use href="#p" x="632.34" y="426.52"/>
<use href="#p" x="646.80" y="426.52"/>
<use href="#p" x="675.73" y="426.52"/>
<use href="#p" x="690.19" y="426.52"/>
<use href="#p" x="704.65" y="426.52"/>
<use href="#p" x="719.11" y="426.52"/>
<use href="#p" x="733.58" y="426.52"/>
<use href="#p" x="762.50" y="426.52"/>
<use href="#p" x="776.96" y="426.52"/>
<use href="#p" x="791.42" y="426.52"/>
<use href="#p" x="805.89" y="426.52"/>
<use href="#p" x="820.35" y="426.52"/>
<use href="#p" x="849.27" y="426.52"/>
<use href="#p" x="863.73" y="426.52"/>
<use href="#p" x="878.20" y="426.52"/>
<use href="#p" x="892.66" y="426.52"/>
<use href="#p" x="907.12" y="426.52"/>
<use href="#p" x="68.32" y="440.98"/>
<use href="#p" x="82.79" y="440.98"/>
<use href="#p" x="97.25" y="440.98"/>
<use href="#p" x="111.71" y="440.98"/>
<use href="#p" x="126.17" y="440.98"/>
<use href="#p" x="155.10" y="440.98"/>
<use href="#p" x="169.56" y="440.98"/>
<use href="#p" x="184.02" y="440.98"/>
<use href="#p" x="198.48" y="440.98"/>
<use href="#p" x="212.94" y="440.98"/>
<use href="#p" x="241.87" y="440.98"/>
<use href="#p" x="256.33" y="440.98"/>
<use href="#p" x="270.79" y="440.98"/>
<use href="#p" x="285.25" y="440.98"/>
<use href="#p" x="299.72" y="440.98"/>
<use href="#p" x="328.64" y="440.98"/>
<use href="#p" x="343.10" y="440.98"/>
<use href="#p" x="357.56" y="440.98"/>
<use href="#p" x="372.03" y="440.98"/>
<use href="#p" x="386.49" y="440.98"/>
<use href="#p" x="415.41" y="440.98"/>
<use href="#p" x="429.87" y="440.98"/>
<use href="#p" x="444.34" y="440.98"/>
<use href="#p" x="458.80" y="440.98"/>
<use href="#p" x="473.26" y="440.98"/>
<use href="#p" x="502.18" y="440.98"/>
<use href="#p" x="516.65" y="440.98"/>
<use href="#p" x="531.11" y="440.98"/>
<use href="#p" x="545.57" y="440.98"/>
<use href="#p" x="560.03" y="440.98"/>
<use href="#p" x="588.96" y="440.98"/>
<use href="#p" x="603.42" y="440.98"/>
<use href="#p" x="617.88" y="440.98"/>
<use href="#p" x="632.34" y="440.98"/>
<use href="#p" x="646.80" y="440.98"/>
<use href="#p" x="675.73" y="440.98"/>
<use href="#p" x="690.19" y="440.98"/>
<use href="#p" x="704.65" y="440.98"/>
<use href="#p" x="719.11" y="440.98"/>
<use href="#p" x="733.58" y="440.98"/>
<use href="#p" x="762.50" y="440.98"/>
<use href="#p" x="776.96" y="440.98"/>
<use href="#p" x="791.42" y="440.98"/>
<use href="#p" x="805.89" y="440.98"/>
<use href="#p" x="820.35" y="440.98"/>
<use href="#p" x="849.27" y="440.98"/>
<use href="#p" x="863.73" y="440.98"/>
<use href="#p" x="878.20" y="440.98"/>
<use href="#p" x="892.66" y="440.98"/>
<use href="#p" x="907.12" y="440.98"/>
<g font-family="Liberation Sans, sans-serif" font-size="9.2" fill="#b3b3b3" text-anchor="middle" opacity="0.97">
<text text-anchor="start" transform="translate(42.80 213.1) rotate(-90)">1</text>
<text text-anchor="start" transform="translate(42.80 405.9) rotate(-90)">1</text>
<text text-anchor="start" transform="translate(100.65 213.1) rotate(-90)">5</text>
<text text-anchor="start" transform="translate(100.65 405.9) rotate(-90)">5</text>
<text text-anchor="start" transform="translate(172.96 213.1) rotate(-90)">10</text>
<text text-anchor="start" transform="translate(172.96 405.9) rotate(-90)">10</text>
<text text-anchor="start" transform="translate(245.27 213.1) rotate(-90)">15</text>
<text text-anchor="start" transform="translate(245.27 405.9) rotate(-90)">15</text>
<text text-anchor="start" transform="translate(317.58 213.1) rotate(-90)">20</text>
<text text-anchor="start" transform="translate(317.58 405.9) rotate(-90)">20</text>
<text text-anchor="start" transform="translate(389.89 213.1) rotate(-90)">25</text>
<text text-anchor="start" transform="translate(389.89 405.9) rotate(-90)">25</text>
<text text-anchor="start" transform="translate(462.20 213.1) rotate(-90)">30</text>
<text text-anchor="start" transform="translate(462.20 405.9) rotate(-90)">30</text>
<text text-anchor="start" transform="translate(534.51 213.1) rotate(-90)">35</text>
<text text-anchor="start" transform="translate(534.51 405.9) rotate(-90)">35</text>
<text text-anchor="start" transform="translate(606.82 213.1) rotate(-90)">40</text>
<text text-anchor="start" transform="translate(606.82 405.9) rotate(-90)">40</text>
<text text-anchor="start" transform="translate(679.13 213.1) rotate(-90)">45</text>
<text text-anchor="start" transform="translate(679.13 405.9) rotate(-90)">45</text>
<text text-anchor="start" transform="translate(751.44 213.1) rotate(-90)">50</text>
<text text-anchor="start" transform="translate(751.44 405.9) rotate(-90)">50</text>
<text text-anchor="start" transform="translate(823.75 213.1) rotate(-90)">55</text>
<text text-anchor="start" transform="translate(823.75 405.9) rotate(-90)">55</text>
<text text-anchor="start" transform="translate(896.06 213.1) rotate(-90)">60</text>
<text text-anchor="start" transform="translate(896.06 405.9) rotate(-90)">60</text>
<text font-size="8.8" transform="translate(29.30 224.35) rotate(-90)">J</text>
<text font-size="8.8" transform="translate(952.60 225.05) rotate(-90)">J</text>
<text font-size="8.8" transform="translate(29.30 238.81) rotate(-90)">I</text>
<text font-size="8.8" transform="translate(952.60 239.51) rotate(-90)">I</text>
<text font-size="8.8" transform="translate(29.30 253.27) rotate(-90)">H</text>
<text font-size="8.8" transform="translate(952.60 253.97) rotate(-90)">H</text>
<text font-size="8.8" transform="translate(29.30 267.73) rotate(-90)">G</text>
<text font-size="8.8" transform="translate(952.60 268.43) rotate(-90)">G</text>
<text font-size="8.8" transform="translate(29.30 282.20) rotate(-90)">F</text>
<text font-size="8.8" transform="translate(952.60 282.90) rotate(-90)">F</text>
<text font-size="8.8" transform="translate(29.30 325.58) rotate(-90)">E</text>
<text font-size="8.8" transform="translate(952.60 326.28) rotate(-90)">E</text>
<text font-size="8.8" transform="translate(29.30 340.04) rotate(-90)">D</text>
<text font-size="8.8" transform="translate(952.60 340.74) rotate(-90)">D</text>
<text font-size="8.8" transform="translate(29.30 354.51) rotate(-90)">C</text>
<text font-size="8.8" transform="translate(952.60 355.21) rotate(-90)">C</text>
<text font-size="8.8" transform="translate(29.30 368.97) rotate(-90)">B</text>
<text font-size="8.8" transform="translate(952.60 369.67) rotate(-90)">B</text>
<text font-size="8.8" transform="translate(29.30 383.43) rotate(-90)">A</text>
<text font-size="8.8" transform="translate(952.60 384.13) rotate(-90)">A</text>
</g>
<use href="#g" x="762.50" y="224.05"/>
<use href="#g" x="776.96" y="224.05"/>
<use href="#g" x="791.42" y="224.05"/>
<use href="#g" x="762.50" y="238.51"/>
<use href="#g" x="776.96" y="238.51"/>
<use href="#g" x="791.42" y="238.51"/>
<use href="#g" x="762.50" y="267.43"/>
<use href="#g" x="791.42" y="267.43"/>
<use href="#g" x="762.50" y="281.90"/>
<use href="#g" x="776.96" y="281.90"/>
<use href="#g" x="791.42" y="281.90"/>
<use href="#g" x="776.96" y="325.28"/>
<use href="#g" x="805.89" y="325.28"/>
<use href="#g" x="776.96" y="368.67"/>
<use href="#g" x="805.89" y="368.67"/>
<use href="#g" x="776.96" y="383.13"/>
<use href="#g" x="776.96" y="339.74"/>
<use href="#g" x="776.96" y="354.21"/>
<use href="#g" x="805.89" y="339.74"/>
<use href="#g" x="805.89" y="354.21"/>
<path d="M762.50 238.51V255.5C762.50 260.5 769.16 260 769.16 265.5V270" stroke="#8c8c8c" stroke-width="4.8" fill="none" stroke-linecap="round" stroke-linejoin="round"/>
<path d="M776.96 238.51V270" stroke="#8c8c8c" stroke-width="4.8" fill="none" stroke-linecap="round" stroke-linejoin="round"/>
<path d="M791.42 238.51V255.5C791.42 260.5 784.76 260 784.76 265.5V270" stroke="#8c8c8c" stroke-width="4.8" fill="none" stroke-linecap="round" stroke-linejoin="round"/>
<path d="M762.50 237.51V249.5" stroke="#74b574" stroke-width="4.8" fill="none" stroke-linecap="round" stroke-linejoin="round"/>
<path d="M776.96 237.51V249.5" stroke="#74b574" stroke-width="4.8" fill="none" stroke-linecap="round" stroke-linejoin="round"/>
<path d="M791.42 237.51V249.5" stroke="#74b574" stroke-width="4.8" fill="none" stroke-linecap="round" stroke-linejoin="round"/>
<path d="M849.27 180.66V238.51L791.42 267.43" stroke="#8c8c8c" stroke-width="4.8" fill="none" stroke-linecap="round" stroke-linejoin="round"/>
<path d="M849.27 180.66V186" stroke="#74b574" stroke-width="4.8" fill="none" stroke-linecap="round" stroke-linejoin="round"/>
<path d="M791.42 267.43L800.92 262.73" stroke="#74b574" stroke-width="4.8" fill="none" stroke-linecap="round" stroke-linejoin="round"/>
<defs><linearGradient id="rbody" x1="0" x2="1" y1="0" y2="0"><stop offset="0" stop-color="#d8b070"/><stop offset="0.35" stop-color="#ebcf98"/><stop offset="0.6" stop-color="#dcb678"/><stop offset="1" stop-color="#b89258"/></linearGradient>
<linearGradient id="rshade" x1="0" x2="1" y1="0" y2="0"><stop offset="0" stop-color="#000" stop-opacity="0.05"/><stop offset="0.3" stop-color="#fff" stop-opacity="0.08"/><stop offset="0.7" stop-color="#000" stop-opacity="0.0"/><stop offset="1" stop-color="#000" stop-opacity="0.28"/></linearGradient></defs>
<clipPath id="rc849"><path d="M843.672 191.5 H854.8719999999998 Q856.0719999999999 191.5 856.0719999999999 192.7 V198.5 Q856.0719999999999 201.0 854.7719999999999 202.5 V216.0 Q856.0719999999999 217.5 856.0719999999999 220.0 V225.8 Q856.0719999999999 227.0 854.8719999999998 227.0 H843.672 Q842.472 227.0 842.472 225.8 V220.0 Q842.472 217.5 843.7719999999999 216.0 V202.5 Q842.472 201.0 842.472 198.5 V192.7 Q842.472 191.5 843.672 191.5Z"/></clipPath>
<g clip-path="url(#rc849)">
<rect x="841.2719999999999" y="191.5" width="16" height="35.5" fill="url(#rbody)"/>
<rect x="841.2719999999999" y="196.7" width="16" height="3.4000000000000057" fill="#cc1414"/>
<rect x="841.2719999999999" y="203.9" width="16" height="3.5" fill="#cc1414"/>
<rect x="841.2719999999999" y="211.5" width="16" height="3.5" fill="#8c3c0c"/>
<rect x="841.2719999999999" y="223.0" width="16" height="1.4000000000000057" fill="#a89024"/>
<rect x="841.2719999999999" y="191.5" width="16" height="35.5" fill="url(#rshade)"/>
</g>
<path d="M805.89 368.67V440.98" stroke="#8c8c8c" stroke-width="4.8" fill="none" stroke-linecap="round" stroke-linejoin="round"/>
<path d="M805.89 431.98V441.48" stroke="#74b574" stroke-width="4.8" fill="none" stroke-linecap="round" stroke-linejoin="round"/>
<clipPath id="rc805"><path d="M800.2860000000001 379.9 H811.4859999999999 Q812.6859999999999 379.9 812.6859999999999 381.09999999999997 V386.9 Q812.6859999999999 389.4 811.386 390.9 V405.0 Q812.6859999999999 406.5 812.6859999999999 409.0 V414.8 Q812.6859999999999 416.0 811.4859999999999 416.0 H800.2860000000001 Q799.086 416.0 799.086 414.8 V409.0 Q799.086 406.5 800.386 405.0 V390.9 Q799.086 389.4 799.086 386.9 V381.09999999999997 Q799.086 379.9 800.2860000000001 379.9Z"/></clipPath>
<g clip-path="url(#rc805)">
<rect x="797.886" y="379.9" width="16" height="36.10000000000002" fill="url(#rbody)"/>
<rect x="797.886" y="382.7" width="16" height="1.400000000000034" fill="#a89024"/>
<rect x="797.886" y="392.9" width="16" height="3.3000000000000114" fill="#8c3c0c"/>
<rect x="797.886" y="400.0" width="16" height="3.8000000000000114" fill="#cc1414"/>
<rect x="797.886" y="407.4" width="16" height="4.0" fill="#cc1414"/>
<rect x="797.886" y="379.9" width="16" height="36.10000000000002" fill="url(#rshade)"/>
</g>
<path d="M765.0 267.1H789.5Q790.5 267.1 790.5 268.1V291 C790.5 298 784.5 301.2 779.5 301.2H775.0C770.0 301.2 764.0 298 764.0 291V268.1Q764.0 267.1 765.0 267.1Z" fill="#0a0a0a"/>
<path d="M764.0 291.6H790.5 V291 C790.5 298 784.5 301.2 779.5 301.2H775.0C770.0 301.2 764.0 298 764.0 291Z" fill="#141414"/>
<rect x="788.1" y="268.1" width="2.4" height="20" fill="#1d1d1d"/>
<rect x="764.0" y="288" width="26.5" height="4.6" fill="#1f1f1f"/>
<rect x="770.8" y="272.8" width="13" height="9.9" fill="#989898"/>
<path d="M774.8 272.8H779.8V276.2Z" fill="#0c0c0c"/><path d="M774.8 282.7H779.8L774.8 279.3Z" fill="#0c0c0c"/>
<path d="M776.96 323.28V332" stroke="#74b574" stroke-width="4.8" fill="none" stroke-linecap="round" stroke-linejoin="round"/>
<path d="M776.96 364V370.17" stroke="#74b574" stroke-width="4.8" fill="none" stroke-linecap="round" stroke-linejoin="round"/>
<path d="M805.89 323.28V332" stroke="#74b574" stroke-width="4.8" fill="none" stroke-linecap="round" stroke-linejoin="round"/>
<path d="M805.89 364V370.17" stroke="#74b574" stroke-width="4.8" fill="none" stroke-linecap="round" stroke-linejoin="round"/>
<rect x="774.4" y="330.4" width="35.2" height="34.8" fill="#9a9a9a" stroke="#555" stroke-width="1"/>
<circle cx="779.2" cy="335.4" r="3.0" fill="#0a0a0a"/>
<circle cx="804.6" cy="335.4" r="3.0" fill="#0a0a0a"/>
<circle cx="779.2" cy="360.4" r="3.0" fill="#0a0a0a"/>
<circle cx="804.6" cy="360.4" r="3.0" fill="#0a0a0a"/>
<circle cx="791.9" cy="347.2" r="9.6" fill="#73514a" stroke="#333" stroke-width="1.3"/>
<path d="M68.32 180.66L68.32 440.98" stroke="#8c0505" stroke-width="6.7" stroke-linecap="round" fill="none"/>
<path d="M68.32 180.66L68.32 440.98" stroke="#cc1414" stroke-width="4.10" stroke-linecap="round" fill="none"/>
<circle cx="68.32" cy="180.66" r="4.1" fill="#35d235" fill-opacity="0.27" stroke="#62e25e" stroke-width="0.9" stroke-opacity="0.9"/>
<circle cx="68.32" cy="440.98" r="4.1" fill="#35d235" fill-opacity="0.27" stroke="#62e25e" stroke-width="0.9" stroke-opacity="0.9"/>
<path d="M83.19 166.20L83.19 426.52" stroke="#1f5fb0" stroke-width="6.7" stroke-linecap="round" fill="none"/>
<path d="M83.19 166.20L83.19 426.52" stroke="#418cd9" stroke-width="4.10" stroke-linecap="round" fill="none"/>
<circle cx="83.19" cy="166.20" r="4.1" fill="#35d235" fill-opacity="0.27" stroke="#62e25e" stroke-width="0.9" stroke-opacity="0.9"/>
<circle cx="83.19" cy="426.52" r="4.1" fill="#35d235" fill-opacity="0.27" stroke="#62e25e" stroke-width="0.9" stroke-opacity="0.9"/>
<path d="M762.50 166.20L762.50 224.05" stroke="#1f5fb0" stroke-width="6.7" stroke-linecap="round" fill="none"/>
<path d="M762.50 166.20L762.50 224.05" stroke="#418cd9" stroke-width="4.10" stroke-linecap="round" fill="none"/>
<circle cx="762.50" cy="166.20" r="4.1" fill="#35d235" fill-opacity="0.27" stroke="#62e25e" stroke-width="0.9" stroke-opacity="0.9"/>
<circle cx="762.50" cy="224.05" r="4.1" fill="#35d235" fill-opacity="0.27" stroke="#62e25e" stroke-width="0.9" stroke-opacity="0.9"/>
<path d="M789.20 16.60L791.42 224.05" stroke="#8c0505" stroke-width="6.7" stroke-linecap="round" fill="none"/>
<path d="M789.20 16.60L791.42 224.05" stroke="#cc1414" stroke-width="4.10" stroke-linecap="round" fill="none"/>
<circle cx="789.20" cy="16.60" r="4.1" fill="#35d235" fill-opacity="0.27" stroke="#62e25e" stroke-width="0.9" stroke-opacity="0.9"/>
<circle cx="791.42" cy="224.05" r="4.1" fill="#35d235" fill-opacity="0.27" stroke="#62e25e" stroke-width="0.9" stroke-opacity="0.9"/>
<path d="M776.96 281.90L776.96 326.58" stroke="#8c0505" stroke-width="6.2" stroke-linecap="round" fill="none"/>
<path d="M776.96 281.90L776.96 326.58" stroke="#cc1414" stroke-width="3.60" stroke-linecap="round" fill="none"/>
<circle cx="776.96" cy="281.90" r="4.1" fill="#35d235" fill-opacity="0.27" stroke="#62e25e" stroke-width="0.9" stroke-opacity="0.9"/>
<circle cx="776.96" cy="326.58" r="4.1" fill="#35d235" fill-opacity="0.27" stroke="#62e25e" stroke-width="0.9" stroke-opacity="0.9"/>
<path d="M907.12 166.20L980.00 166.20" stroke="#1f5fb0" stroke-width="6.7" stroke-linecap="round" fill="none"/>
<path d="M907.12 166.20L980.00 166.20" stroke="#418cd9" stroke-width="4.10" stroke-linecap="round" fill="none"/>
<circle cx="907.12" cy="166.20" r="4.1" fill="#35d235" fill-opacity="0.27" stroke="#62e25e" stroke-width="0.9" stroke-opacity="0.9"/>
<path d="M907.12 180.66L980.00 180.66" stroke="#8c0505" stroke-width="6.7" stroke-linecap="round" fill="none"/>
<path d="M907.12 180.66L980.00 180.66" stroke="#cc1414" stroke-width="4.10" stroke-linecap="round" fill="none"/>
<circle cx="907.12" cy="180.66" r="4.1" fill="#35d235" fill-opacity="0.27" stroke="#62e25e" stroke-width="0.9" stroke-opacity="0.9"/>
<g fill="none" stroke="#3b3bd0" stroke-width="2.6" stroke-linecap="round" stroke-linejoin="round">
<path d="M597.7 19.8C595.6 18.5 591.0 19.0 590.2 22.2C589.6 25.3 596.4 25.6 597.6 28.7C598.4 31.0 595.8 31.9 594.0 31.9C591.8 31.9 589.7 30.8 589.0 29.6"/>
<ellipse cx="604.85" cy="27.65" rx="2.65" ry="3.45"/>
<path d="M612.4 24.4V31.4M612.4 27.4C613.2 25.4 615.0 24.3 616.9 24.6"/>
<path d="M623.5 19.5V31.7M619.2 23.4H627.5"/>
<path d="M630.9 24.4V31.3M631.0 18.9V19.0"/>
<path d="M636.0 27.9L641.6 25.7C641.2 23.7 638.6 23.1 637.0 24.3C635.2 25.7 634.9 28.6 636.2 30.2C637.8 32.0 640.8 31.3 642.2 29.5"/>
<path d="M608.4 77.5L611.0 75.2V87.0M608.4 87.0H613.2"/>
<path d="M628.2 79.8H634.0M628.2 84.2H634.0"/>
<ellipse cx="651.2" cy="81.3" rx="4.3" ry="6.3"/>
<ellipse cx="611.4" cy="108.2" rx="4.3" ry="6.3"/>
<path d="M628.2 106.4H634.0M628.2 110.9H634.0"/>
<path d="M648.5 104.4L651.2 102.0V114.1M648.4 114.1H653.4"/>
</g>
<path d="M666.1 26.3H730" stroke="#3535d6" stroke-width="1.25" fill="none"/>
<path d="M731.6 12.2L735.0 15.6L737.0 19.4L738.7 24.6L744.4 32.0L746.0 34.2L745.8 36.4L739.5 37.8L732.6 38.7L732.2 18.0L730.5 17.8Z" stroke="#3b3bd0" stroke-width="1" fill="none" stroke-linejoin="round"/>
</svg></body></html>
